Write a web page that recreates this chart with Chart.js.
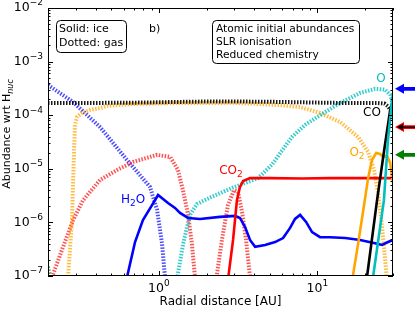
<!DOCTYPE html>
<html><head><meta charset="utf-8">
<script src="https://cdn.jsdelivr.net/npm/chart.js@4.4.1/dist/chart.umd.min.js"></script>
<style>html,body{margin:0;padding:0;background:#fff}</style>
</head><body>
<canvas id="c" width="415" height="310"></canvas>
<script>
// ---- axis ranges / ticks ----
const xMin = 0.2, xMax = 30;
const yMin = 1e-7, yMax = 1e-2;
const xTickVals = [0.2,0.3,0.4,0.5,0.6,0.7,0.8,0.9,1,2,3,4,5,6,7,8,9,10,20,30];
const yDecades = [-7,-6,-5,-4,-3,-2];

// ---- series (radius in AU, abundance) ----
// CO gas (black dotted)
const coGasR = [0.2,0.3,0.5,0.8,1.2,2,3,5,8,12,18,24,26.5,28,29.5,30.5];
const coGasA = [1.69e-4,1.69e-4,1.7e-4,1.72e-4,1.76e-4,1.8e-4,1.8e-4,1.78e-4,1.74e-4,1.7e-4,1.69e-4,1.69e-4,1.65e-4,1.45e-4,1.15e-4,9e-5];
// CO ice (black solid)
const coIceR = [20.0,20.6,23.8,26.4,28.8,30];
const coIceA = [5.5e-8,1e-7,2.6e-6,2.24e-5,1.25e-4,1.9e-4];
// O ice (cyan solid)
const oIceR = [22.0,22.5,26.3,27.9,29.6,30];
const oIceA = [5e-8,1e-7,2.6e-6,3.5e-5,1.9e-4,2.6e-4];
// O gas (cyan dotted)
const oGasR = [1.28,1.30,1.42,1.57,1.74,2.10,2.90,4.23,5.18,5.99,6.9,8.37,10.4,13.9,18.6,23.1,26.7,28.8,30];
const oGasA = [6e-8,8.5e-8,3.8e-7,1.38e-6,2.2e-6,2.9e-6,4.4e-6,6.7e-6,1.2e-5,2.2e-5,3.9e-5,6.6e-5,1.0e-4,1.69e-4,2.6e-4,3.1e-4,3.0e-4,2.4e-4,1.55e-4];
// H2O gas (blue dotted)
const h2oGasR = [0.2,0.288,0.426,0.63,0.88,0.975,1.047,1.094,1.11];
const h2oGasA = [3.66e-4,1.76e-4,6.0e-5,1.46e-5,4.6e-6,1.71e-6,4.1e-7,9.5e-8,5e-8];
// H2O ice (blue solid)
const h2oIceR = [0.61,0.63,0.708,0.794,0.906,0.989,1.143,1.265,1.36,1.53,1.82,2.43,3.03,3.25,3.50,3.76,4.05,4.68,5.41,6.08,6.73,7.23,7.78,8.49,9.26,10.4,12.0,15.0,18.6,23.1,25.6,27.9,30];
const h2oIceA = [5.5e-8,9.5e-8,4.3e-7,1.11e-6,2.1e-6,3.25e-6,2.3e-6,1.86e-6,1.5e-6,1.21e-6,1.16e-6,1.27e-6,1.32e-6,1.21e-6,8.2e-7,4.7e-7,3.5e-7,3.8e-7,4.3e-7,5.1e-7,7.9e-7,1.16e-6,1.38e-6,1.02e-6,6.6e-7,5.3e-7,5.3e-7,5.1e-7,4.7e-7,4.1e-7,3.8e-7,4.3e-7,4.7e-7];
// CO2 gas (red dotted)
const co2GasR = [0.205,0.212,0.249,0.288,0.333,0.426,0.545,0.687,0.975,1.18,1.32,1.42,1.53,1.62,1.69,1.72,2.0,2.25,2.30,2.50,2.73,2.98,3.16,3.35,3.55,3.76,3.85];
const co2GasA = [5e-8,9.5e-8,3.5e-7,1.11e-6,2.6e-6,6.2e-6,9.5e-6,1.34e-5,1.82e-5,1.66e-5,9.5e-6,4.0e-6,1.38e-6,3.8e-7,9.5e-8,5e-8,null,5e-8,8.5e-8,4.7e-7,2.1e-6,4.0e-6,3.7e-6,1.56e-6,4.7e-7,9.5e-8,5e-8];
// CO2 ice (red solid)
const co2IceR = [2.65,2.73,2.94,3.11,3.25,3.40,3.76,5.0,8,12,20,30];
const co2IceA = [4.4e-8,8.5e-8,4.7e-7,2.6e-6,4.6e-6,5.9e-6,6.7e-6,6.7e-6,6.6e-6,6.7e-6,6.7e-6,6.7e-6];
// O2 gas (orange dotted)
const o2GasR = [0.262,0.267,0.275,0.283,0.287,0.292,0.296,0.305,0.328,0.368,0.426,0.471,0.569,0.687,1.36,3,5.82,7.78,10.4,13.9,18.1,20.9,22.8,24.2,25.6,26.7,27.5,27.8];
const o2GasA = [4e-8,8.5e-8,3.05e-7,9.8e-7,4.0e-6,2.24e-5,6.6e-5,9.3e-5,1.1e-4,1.25e-4,1.36e-4,1.49e-4,1.55e-4,1.62e-4,1.69e-4,1.7e-4,1.55e-4,1.42e-4,1.1e-4,7.5e-5,3.9e-5,2.06e-5,9.5e-6,3.5e-6,8.2e-7,2.17e-7,8.5e-8,5e-8];
// O2 ice (orange solid)
const o2IceR = [16.3,16.6,18.1,19.4,20.9,22.1,23.5,24.9,26.0,27.5,28.8,30,30.5];
const o2IceA = [4e-8,8.5e-8,4.1e-7,1.56e-6,6.7e-6,1.46e-5,1.97e-5,1.89e-5,1.66e-5,1.74e-5,1.29e-5,5.4e-6,3e-6];
// green gas (dotted, left edge)
const grnGasR = [0.2,0.206,0.209];
const grnGasA = [1.5e-7,9.5e-8,6e-8];
// reference arrows (right side)
const arrowValues = [3.1e-4, 6.0e-5, 1.82e-5];
const arrowColors = ['#0000ff','#ff0000','#008000'];

// ---- helpers ----
const FONT = '"DejaVu Sans", sans-serif';
function isDecade(v){const l=Math.log10(v);return Math.abs(l-Math.round(l))<1e-6;}
function expOf(v){return String(Math.round(Math.log10(v))).replace('-','\u2212');}
function pts(R,A){return R.map((r,i)=>({x:r,y:A[i]}));}
const yTickVals = [];
yDecades.forEach(d=>{ if(d===-2){yTickVals.push(1e-2);return;} for(let k=1;k<=9;k++) yTickVals.push(k*Math.pow(10,d)); });

const CYAN='rgb(0,191,191)', ORANGE='rgb(255,165,0)';
function solid(label,R,A,color){return {label,data:pts(R,A),borderColor:color,borderWidth:2.6,pointRadius:0,fill:false,clip:0,spanGaps:false};}
function dotted(label,R,A,color){return {label,data:pts(R,A),borderColor:color,borderWidth:4,borderDash:[1.5,1.5],borderCapStyle:'butt',pointRadius:0,fill:false,clip:0,spanGaps:false};}

function richText(ctx, segs, x, y, size, color, align){
  ctx.save(); ctx.fillStyle=color; ctx.textBaseline='middle';
  const fonts = segs.map(s=> s[1]===0 ? size+'px '+FONT : (s[1]===2?'italic ':'')+Math.round(size*0.72)+'px '+FONT);
  let w=0; const ws=segs.map((s,i)=>{ctx.font=fonts[i]; const m=ctx.measureText(s[0]).width; w+=m; return m;});
  let cx = align==='center'? x-w/2 : (align==='right'? x-w : x);
  segs.forEach((s,i)=>{ctx.font=fonts[i]; ctx.fillText(s[0], cx, y + (s[1]? size*0.32:0)); cx+=ws[i];});
  ctx.restore();
}
function powLabel(ctx, v, x, y, align){
  ctx.save(); ctx.fillStyle='#000'; ctx.textBaseline='middle';
  const base='10', ex=expOf(v);
  ctx.font='12.5px '+FONT; const wb=ctx.measureText(base).width;
  ctx.font='9px '+FONT; const we=ctx.measureText(ex).width;
  const w=wb+we; let cx = align==='center'? x-w/2 : x-w;
  ctx.font='12.5px '+FONT; ctx.fillText(base,cx,y);
  ctx.font='9px '+FONT; ctx.fillText(ex,cx+wb,y-5);
  ctx.restore();
}
function rbox(ctx,x0,y0,x1,y1,r){
  ctx.beginPath(); ctx.moveTo(x0+r,y0); ctx.lineTo(x1-r,y0); ctx.arcTo(x1,y0,x1,y0+r,r);
  ctx.lineTo(x1,y1-r); ctx.arcTo(x1,y1,x1-r,y1,r); ctx.lineTo(x0+r,y1); ctx.arcTo(x0,y1,x0,y1-r,r);
  ctx.lineTo(x0,y0+r); ctx.arcTo(x0,y0,x0+r,y0,r); ctx.closePath();
  ctx.fillStyle='#fff'; ctx.fill(); ctx.strokeStyle='#000'; ctx.lineWidth=1; ctx.stroke();
}
function arrow(ctx, tipX, yv, color, inner){
  ctx.save(); ctx.fillStyle=color;
  ctx.beginPath(); ctx.moveTo(tipX,yv); ctx.lineTo(tipX+9,yv-5); ctx.lineTo(tipX+9,yv-1.8); ctx.lineTo(tipX+20,yv-1.8);
  ctx.lineTo(tipX+20,yv+1.8); ctx.lineTo(tipX+9,yv+1.8); ctx.lineTo(tipX+9,yv+5); ctx.closePath(); ctx.fill();
  if(inner){ ctx.fillStyle='#000'; ctx.beginPath(); ctx.moveTo(tipX+2,yv); ctx.lineTo(tipX+8,yv-3); ctx.lineTo(tipX+8,yv-0.6);
    ctx.lineTo(tipX+20,yv-0.6); ctx.lineTo(tipX+20,yv+0.6); ctx.lineTo(tipX+8,yv+0.6); ctx.lineTo(tipX+8,yv+3); ctx.closePath(); ctx.fill(); }
  ctx.restore();
}

const decor = {
  id:'decor',
  afterDatasetsDraw(chart){
    const {ctx, chartArea:a, scales:{x,y}} = chart;
    ctx.save();
    ctx.strokeStyle='#000'; ctx.lineWidth=1;
    // inward ticks
    ctx.beginPath();
    x.ticks.forEach(t=>{ const v=t.value; const p=Math.round(x.getPixelForValue(v))+0.5; const L=isDecade(v)?5:2.5;
      ctx.moveTo(p,a.bottom); ctx.lineTo(p,a.bottom-L); ctx.moveTo(p,a.top); ctx.lineTo(p,a.top+L); });
    y.ticks.forEach(t=>{ const v=t.value; const p=Math.round(y.getPixelForValue(v))+0.5; const L=isDecade(v)?5:2.5;
      ctx.moveTo(a.left,p); ctx.lineTo(a.left+L,p); ctx.moveTo(a.right,p); ctx.lineTo(a.right-L,p); });
    ctx.stroke();
    // frame
    ctx.strokeRect(a.left+0.5, a.top+0.5, a.right-a.left-1, a.bottom-a.top-1);
    // tick labels
    x.ticks.forEach(t=>{ if(isDecade(t.value)) powLabel(ctx,t.value,x.getPixelForValue(t.value),289,'center'); });
    y.ticks.forEach(t=>{ if(isDecade(t.value)) powLabel(ctx,t.value,43,y.getPixelForValue(t.value),'right'); });
    // info boxes
    rbox(ctx,56.5,20.5,126.5,52.5,4);
    rbox(ctx,212.5,20.5,359.5,63.5,4);
    ctx.fillStyle='#000'; ctx.textBaseline='middle'; ctx.textAlign='left';
    ctx.font='11px '+FONT;
    ctx.fillText('Solid: ice',59,29); ctx.fillText('Dotted: gas',59,43);
    ctx.fillText('b)',149,29);
    ctx.font='10.7px '+FONT;
    ctx.fillText('Atomic initial abundances',216,29);
    ctx.fillText('SLR ionisation',216,42);
    ctx.fillText('Reduced chemistry',216,55);
    // species labels
    richText(ctx,[['O',0]],381,79,12,CYAN,'center');
    richText(ctx,[['CO',0]],372,113,12,'#000','center');
    richText(ctx,[['O',0],['2',1]],357,153,12,ORANGE,'center');
    richText(ctx,[['CO',0],['2',1]],231,171,12,'#ff0000','center');
    richText(ctx,[['H',0],['2',1],['O',0]],133,200,12,'#0000ff','center');
    // axis titles
    richText(ctx,[['Radial distance [AU]',0]],(a.left+a.right)/2,302,12,'#000','center');
    ctx.save(); ctx.translate(7,134); ctx.rotate(-Math.PI/2);
    richText(ctx,[['Abundance wrt H',0],['nuc',2]],0,0,11,'#000','center');
    ctx.restore();
    // arrows
    arrowValues.forEach((v,i)=>{ arrow(ctx, a.right+2, y.getPixelForValue(v), arrowColors[i], i===1); });
    ctx.restore();
  }
};

Chart.defaults.font.family = FONT;
new Chart(document.getElementById('c'), {
  type:'line',
  data:{ datasets:[
    solid('O ice',oIceR,oIceA,CYAN),
    solid('CO ice',coIceR,coIceA,'#000'),
    solid('O2 ice',o2IceR,o2IceA,ORANGE),
    solid('CO2 ice',co2IceR,co2IceA,'#ff0000'),
    solid('H2O ice',h2oIceR,h2oIceA,'#0000ff'),
    dotted('CO gas',coGasR,coGasA,'rgba(0,0,0,0.9)'),
    dotted('O gas',oGasR,oGasA,'rgba(0,191,191,0.8)'),
    dotted('O2 gas',o2GasR,o2GasA,'rgba(255,165,0,0.75)'),
    dotted('CO2 gas',co2GasR,co2GasA,'rgba(255,0,0,0.68)'),
    dotted('H2O gas',h2oGasR,h2oGasA,'rgba(0,0,255,0.7)'),
    dotted('green gas',grnGasR,grnGasA,'rgba(0,128,0,0.7)')
  ]},
  options:{
    responsive:false, animation:false, devicePixelRatio:1,
    layout:{padding:{left:0,right:22,top:8,bottom:0}},
    plugins:{legend:{display:false}, tooltip:{enabled:false}},
    elements:{point:{radius:0}, line:{tension:0}},
    scales:{
      x:{type:'logarithmic', min:xMin, max:xMax,
        afterFit(s){s.height=34;},
        afterBuildTicks(s){s.ticks=xTickVals.map(v=>({value:v}));},
        grid:{display:false, drawTicks:false}, border:{display:false},
        ticks:{display:false, autoSkip:false}},
      y:{type:'logarithmic', min:yMin, max:yMax,
        afterFit(s){s.width=48;},
        afterBuildTicks(s){s.ticks=yTickVals.map(v=>({value:v}));},
        grid:{display:false, drawTicks:false}, border:{display:false},
        ticks:{display:false, autoSkip:false}}
    }
  },
  plugins:[decor]
});
</script>
</body></html>
